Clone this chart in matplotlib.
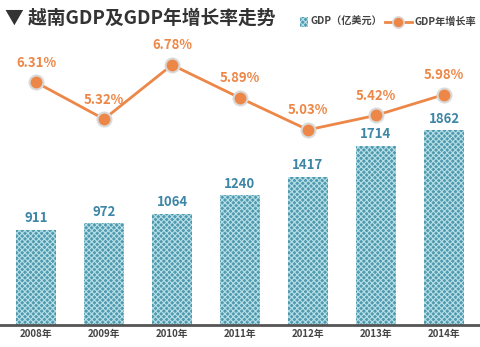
import matplotlib
matplotlib.use('Agg')
import matplotlib.pyplot as plt
import matplotlib.patches as mpatches
from matplotlib.lines import Line2D

plt.rcParams['font.family'] = ['Noto Sans CJK SC', 'DejaVu Sans']
plt.rcParams['hatch.linewidth'] = 0.8

years = ['2008年', '2009年', '2010年', '2011年', '2012年', '2013年', '2014年']
gdp = [911, 972, 1064, 1240, 1417, 1714, 1862]
growth = [6.31, 5.32, 6.78, 5.89, 5.03, 5.42, 5.98]

bar_face = '#4f9aae'
bar_hatch = '#b8dfe7'
orange = '#ec8748'
gray = '#444444'

W, H = 481, 347
fig = plt.figure(figsize=(W / 100, H / 100), dpi=100)
ax = fig.add_axes([0, 22 / H, 1, 325 / H])
x = list(range(len(years)))

ax.bar(x, gdp, width=0.59, color=bar_face, edgecolor=bar_hatch, hatch='xxxxxx', linewidth=0)
for xi, v in zip(x, gdp):
    ax.text(xi, v + 40, str(v), ha='center', va='bottom', fontsize=9.5,
            fontweight='bold', color='#3d86a6')
ax.set_xlim(-0.53, 6.545)
ax.set_ylim(0, 3104)
ax.set_xticks(x)
ax.set_xticklabels(years, fontsize=7, fontweight='bold', color=gray)
ax.tick_params(axis='x', length=0, pad=3)
ax.set_yticks([])
for s in ['top', 'right', 'left']:
    ax.spines[s].set_visible(False)
ax.spines['bottom'].set_color('#555555')
ax.spines['bottom'].set_linewidth(2)

ax2 = ax.twinx()
ax2.plot(x, growth, color=orange, linewidth=2, marker='o', markersize=10,
         markerfacecolor=orange, markeredgecolor='#d9d9d9', markeredgewidth=1.5)
for xi, v in zip(x, growth):
    ax2.annotate(f'{v:.2f}%', (xi, v), xytext=(0, 9), textcoords='offset points',
                 ha='center', va='bottom', fontsize=9.5, fontweight='bold', color=orange)
ax2.set_ylim(-0.23, 8.53)
ax2.set_yticks([])
for s in ax2.spines.values():
    s.set_visible(False)

fig.text(0.01, 0.948, '▼ 越南GDP及GDP年增长率走势', fontsize=13.5, fontweight='bold',
         color='#333333', va='center', ha='left')

# legend, drawn by hand in pixel positions
ly = 1 - 22 / H
fig.patches.append(mpatches.Rectangle((300 / W, ly - 4.5 / H), 8 / W, 9 / H,
                                      transform=fig.transFigure, facecolor=bar_face,
                                      edgecolor=bar_hatch, hatch='xxxxxx', linewidth=0))
fig.text(311 / W, ly, 'GDP（亿美元）', fontsize=7.3, fontweight='bold', color=gray,
         va='center', ha='left')
fig.add_artist(Line2D([385 / W, 412 / W], [ly, ly], transform=fig.transFigure,
                      color=orange, linewidth=2))
fig.add_artist(Line2D([398 / W], [ly], transform=fig.transFigure, marker='o',
                      markersize=8, markerfacecolor=orange, markeredgecolor='#d9d9d9',
                      markeredgewidth=1.2))
fig.text(415 / W, ly, 'GDP年增长率', fontsize=7.3, fontweight='bold', color=gray,
         va='center', ha='left')

fig.savefig('out.png', dpi=100)
